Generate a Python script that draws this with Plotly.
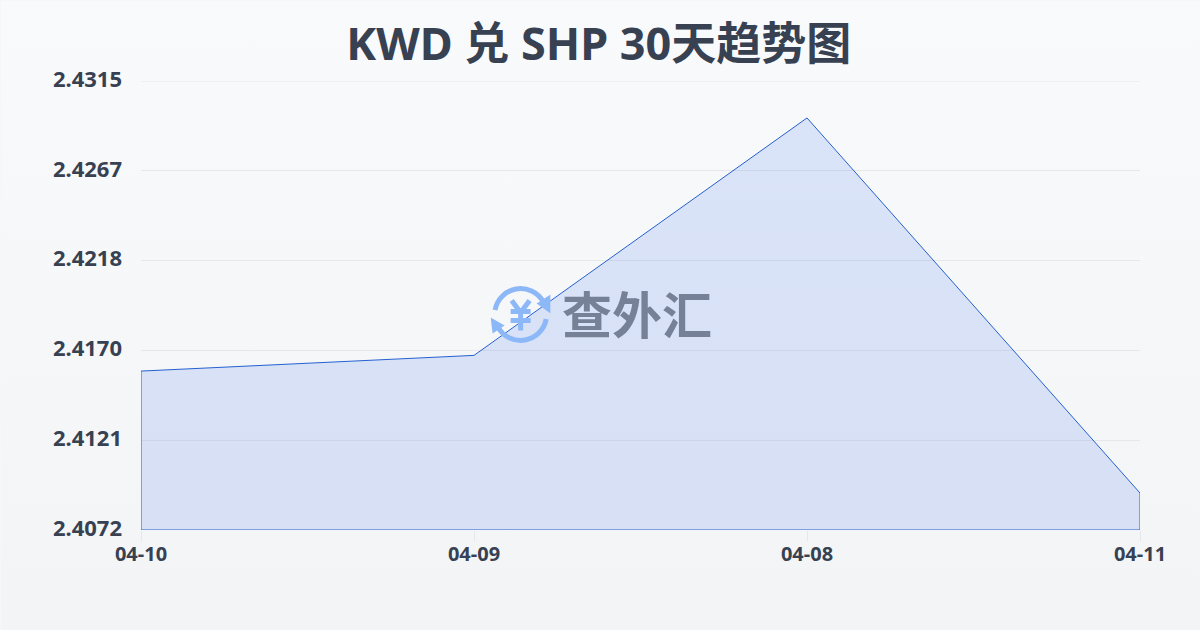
import base64
import plotly.graph_objects as go

categories = ["04-10", "04-09", "04-08", "04-11"]
values = [2.4158, 2.41665, 2.4295, 2.4092]
y_floor = 2.4072
y_top = 2.4315
y_tick_vals = [2.4072, 2.41206, 2.41692, 2.42178, 2.42664, 2.4315]
y_tick_text = ["2.4072", "2.4121", "2.4170", "2.4218", "2.4267", "2.4315"]

TEXT = "#374151"
GRID = "#e5e7eb"
FONT = "Noto Sans, Noto Sans CJK SC"


def svg_uri(svg):
    return "data:image/svg+xml;base64," + base64.b64encode(svg.encode()).decode()


bg_svg = (
    '<svg xmlns="http://www.w3.org/2000/svg" width="1200" height="630" viewBox="0 0 1200 630" preserveAspectRatio="none">'
    '<defs><linearGradient id="g" x1="0" y1="0" x2="0" y2="1">'
    '<stop offset="0" stop-color="#f8fafc"/><stop offset="1" stop-color="#f3f4f6"/>'
    '</linearGradient></defs><rect width="1200" height="630" fill="url(#g)"/></svg>'
)

icon_svg = (
    '<svg xmlns="http://www.w3.org/2000/svg" width="60" height="60" viewBox="0 0 60 60">'
    '<g fill="none" stroke="#8db8f8" stroke-width="5">'
    '<path d="M4.4 24.5 A26 26 0 0 1 52.5 16"/>'
    '<path d="M55.6 33.5 A26 26 0 0 1 7.5 42"/></g>'
    '<g fill="#8db8f8"><path d="M60 9 L60 28 L46 18 Z"/><path d="M0 32 L14 40 L2 48 Z"/></g>'
    '<g fill="none" stroke="#8db8f8" stroke-width="5">'
    '<path d="M21 15 L30 27 L39 15"/><path d="M30 27 L30 45"/>'
    '<path d="M20 26 L40 26"/><path d="M20 35 L40 35"/></g></svg>'
)

fig = go.Figure()
fig.add_trace(
    go.Scatter(
        x=[categories[0]] + categories + [categories[-1], categories[0]],
        y=[y_floor] + values + [y_floor, y_floor],
        mode="lines",
        line=dict(color="#2560d0", width=1),
        fill="toself",
        fillcolor="rgba(55,110,235,0.15)",
        hoverinfo="skip",
        cliponaxis=False,
        showlegend=False,
    )
)

fig.update_layout(
    width=1200,
    height=630,
    margin=dict(l=140.5, r=59.5, t=80.5, b=99.5, autoexpand=False),
    paper_bgcolor="#f6f7f9",
    plot_bgcolor="rgba(0,0,0,0)",
    font=dict(family=FONT, color=TEXT),
    title=dict(
        text="<b>KWD 兑 SHP 30天趋势图</b>",
        x=0.499,
        xanchor="center",
        y=0.93,
        yanchor="middle",
        font=dict(size=45, family=FONT, color=TEXT),
    ),
    xaxis=dict(
        type="category",
        categoryorder="array",
        categoryarray=categories,
        range=[0, 3],
        showgrid=False,
        zeroline=False,
        showline=False,
        ticks="outside",
        ticklen=10,
        tickcolor=GRID,
        tickwidth=1,
        tickfont=dict(size=20, family=FONT, color=TEXT, weight="bold"),
        ticklabelstandoff=-4,
    ),
    yaxis=dict(
        range=[y_floor, y_top],
        tickvals=y_tick_vals,
        ticktext=y_tick_text,
        showgrid=True,
        gridcolor=GRID,
        gridwidth=1,
        zeroline=False,
        showline=False,
        ticks="",
        tickfont=dict(size=22, family=FONT, color=TEXT, weight="bold"),
        ticklabelstandoff=18,
        ticklabelshift=-2,
    ),
    shapes=[
        dict(type="line", xref="paper", x0=0, x1=1, yref="y", y0=y_top, y1=y_top,
             line=dict(color=GRID, width=1), layer="below"),
    ],
    images=[
        dict(
            source=svg_uri(bg_svg), xref="paper", yref="paper", x=-140 / 1000, y=1 + 80 / 450,
            sizex=1.2, sizey=1.4, xanchor="left", yanchor="top", sizing="stretch", layer="below",
        ),
        dict(
            source=svg_uri(icon_svg), xref="paper", yref="paper", x=(490 - 140) / 1000, y=(530 - 285) / 450,
            sizex=60 / 1000, sizey=60 / 450, xanchor="left", yanchor="top", sizing="stretch", layer="above",
        ),
    ],
    annotations=[
        dict(
            text="<b>查外汇</b>", xref="paper", yref="paper", x=(636 - 140) / 1000, y=(530 - 312) / 450,
            xanchor="center", yanchor="middle", showarrow=False,
            font=dict(size=50, family="Noto Sans CJK SC", color="#768096"),
        )
    ],
)

fig.write_html(
    "out.html",
    config={"displayModeBar": False},
    post_script="document.body.style.margin='0';document.documentElement.style.overflow='hidden';",
)
